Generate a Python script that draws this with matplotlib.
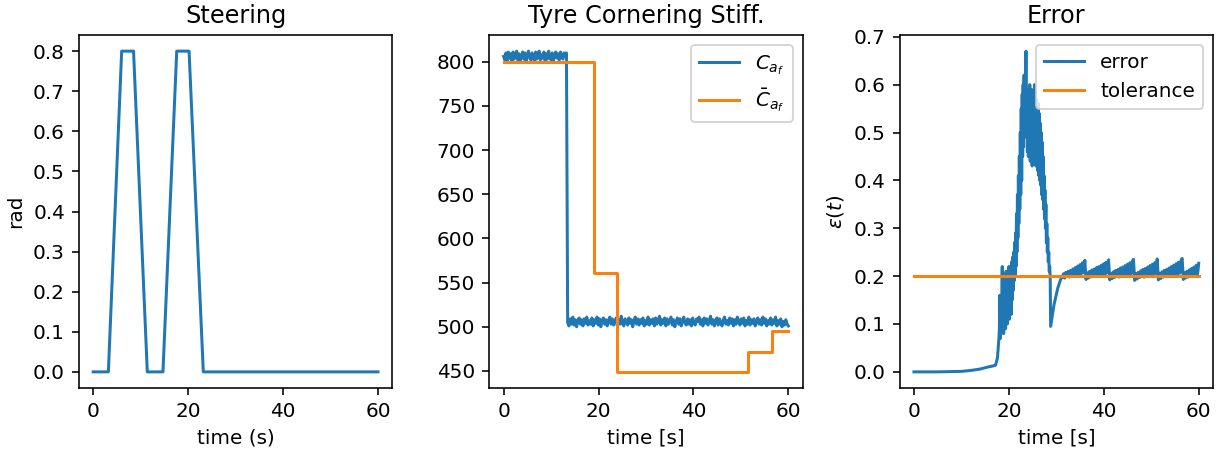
import numpy as np
import matplotlib.pyplot as plt

# steering input
steer_t = [0, 3.2, 6.0, 8.5, 11.4, 14.7, 17.6, 20.2, 23.2, 60]
steer_v = [0, 0, 0.8, 0.8, 0, 0, 0.8, 0.8, 0, 0]
steer_ticks = [0.0, 0.1, 0.2, 0.3, 0.4, 0.5, 0.6, 0.7, 0.8]

# true cornering stiffness (noisy), before and after the drop
caf_a = [806, 802, 810, 801, 811, 804, 809, 801, 811, 803, 808, 812, 802, 809, 801, 806, 811, 803,
         810, 801, 808, 812, 804, 802, 810, 805, 801, 811, 803, 809, 812, 802, 808, 804, 811, 801,
         809, 803, 812, 805, 802, 810, 801, 808, 811, 804, 809, 802, 811, 805, 803, 810, 806, 810]
caf_b = [505, 501, 509, 503, 511, 502, 508, 500, 507, 510, 503, 508, 501, 509, 504, 511, 502, 507, 503, 510,
         501, 508, 504, 511, 502, 509, 500, 507, 510, 503, 508, 501, 507, 511, 503, 509, 502, 506, 510, 501,
         508, 503, 512, 504, 501, 509, 506, 502, 510, 504, 508, 500, 507, 511, 503, 509, 502, 508, 504, 510,
         501, 507, 503, 511, 502, 508, 504, 509, 501, 510, 503, 507, 512, 502, 508, 504, 510, 501, 509, 503,
         507, 511, 502, 508, 500, 506, 510, 503, 509, 501, 507, 511, 504, 502, 509, 503, 508, 501, 510, 504,
         502, 509, 506, 511, 503, 508, 501, 510, 504, 509, 502, 507, 512, 503, 508, 501, 507, 510, 502, 509,
         504, 501, 508, 511, 503, 507, 502, 510, 504, 509, 501, 508, 503, 511, 506, 502, 509, 504, 510, 501,
         507, 503, 511, 502, 508, 504, 509, 501, 507, 510, 503, 508, 502, 511, 504, 509, 501, 507, 503, 510,
         502, 508, 504, 511, 501, 507, 503, 509, 500, 506, 502, 508, 503, 501]

# estimated stiffness (piecewise constant)
cbar_t = [0, 19, 24, 51.5, 56.5, 60]
cbar_v = [800, 561, 449, 471, 495, 495]

# error: smooth start, burst, recovery, sawtooth
err_smooth_t = [0, 5, 8, 10, 12, 14, 15.5, 16.5, 17.2, 17.6, 17.9]
err_smooth_v = [0, 0, 0.0005, 0.001, 0.003, 0.006, 0.010, 0.012, 0.014, 0.03, 0.07]
err_burst = [0.09, 0.16, 0.07, 0.12, 0.08, 0.14, 0.22, 0.10, 0.19, 0.08,
             0.20, 0.11, 0.19, 0.09, 0.21, 0.12, 0.20, 0.10, 0.21, 0.13,
             0.22, 0.11, 0.21, 0.14, 0.22, 0.12, 0.23, 0.15, 0.24, 0.17,
             0.25, 0.19, 0.27, 0.20, 0.29, 0.22, 0.33, 0.25, 0.37, 0.28,
             0.41, 0.31, 0.45, 0.34, 0.50, 0.37, 0.55, 0.40, 0.58, 0.45,
             0.60, 0.47, 0.62, 0.50, 0.60, 0.55, 0.67, 0.49, 0.58, 0.46,
             0.59, 0.45, 0.57, 0.47, 0.60, 0.44, 0.58, 0.46, 0.59, 0.43,
             0.58, 0.46, 0.57, 0.44, 0.60, 0.45, 0.56, 0.43, 0.57, 0.44,
             0.55, 0.42, 0.56, 0.41, 0.54, 0.40, 0.52, 0.39, 0.50, 0.37,
             0.48, 0.36, 0.45, 0.34, 0.41, 0.32, 0.38, 0.30, 0.35, 0.27,
             0.31, 0.25, 0.28, 0.23, 0.25, 0.21, 0.22, 0.20]
err_rec_t = [28.8, 29.5, 30.3, 31.0]
err_rec_v = [0.095, 0.14, 0.175, 0.196]
err_saw = [0.197, 0.205, 0.196, 0.208, 0.199, 0.210, 0.198, 0.212, 0.201, 0.215,
           0.200, 0.218, 0.203, 0.221, 0.202, 0.224, 0.205, 0.228, 0.207, 0.233,
           0.193, 0.207, 0.196, 0.210, 0.198, 0.213, 0.200, 0.215, 0.199, 0.218,
           0.202, 0.220, 0.201, 0.223, 0.204, 0.226, 0.203, 0.229, 0.207, 0.234,
           0.192, 0.206, 0.195, 0.209, 0.197, 0.212, 0.199, 0.214, 0.198, 0.217,
           0.201, 0.219, 0.200, 0.222, 0.203, 0.225, 0.202, 0.228, 0.205, 0.231, 0.235,
           0.191, 0.205, 0.194, 0.208, 0.197, 0.211, 0.199, 0.214, 0.198, 0.216,
           0.201, 0.219, 0.200, 0.222, 0.203, 0.225, 0.203, 0.228, 0.206, 0.236,
           0.192, 0.206, 0.195, 0.209, 0.198, 0.212, 0.200, 0.214, 0.199, 0.217,
           0.202, 0.220, 0.201, 0.223, 0.204, 0.226, 0.203, 0.229, 0.206, 0.232, 0.237,
           0.193, 0.207, 0.196, 0.210, 0.198, 0.213, 0.200, 0.216, 0.199, 0.219,
           0.202, 0.223, 0.204, 0.227]

tol_t = [0, 60]
tol_v = [0.2, 0.2]

caf_t = np.concatenate([np.linspace(0, 13.25, len(caf_a)), np.linspace(13.5, 60, len(caf_b))])
caf = np.array(caf_a + caf_b)

burst_t = 18.0 + 0.1 * np.arange(len(err_burst))
saw_t = np.linspace(31.25, 60, len(err_saw))
err_t = np.concatenate([err_smooth_t, burst_t, err_rec_t, saw_t])
err_v = np.concatenate([err_smooth_v, err_burst, err_rec_v, err_saw])

fig, ax = plt.subplots(1, 3, figsize=(8.5, 3.125), dpi=144)
plt.subplots_adjust(left=0.0645, right=0.991, top=0.922, bottom=0.138, wspace=0.31)

ax[0].plot(steer_t, steer_v)
ax[0].set_title('Steering')
ax[0].set_xlabel('time (s)')
ax[0].set_ylabel('rad')
ax[0].set_yticks(steer_ticks)

ax[1].plot(caf_t, caf, label=r'$C_{a_f}$')
ax[1].step(cbar_t, cbar_v, where='post', label=r'$\bar{C}_{a_f}$')
ax[1].set_title('Tyre Cornering Stiff.')
ax[1].set_xlabel('time [s]')
ax[1].legend(loc='upper right')

ax[2].plot(err_t, err_v, label='error')
ax[2].plot(tol_t, tol_v, label='tolerance')
ax[2].set_title('Error')
ax[2].set_xlabel('time [s]')
ax[2].set_ylabel(r'$\varepsilon(t)$')
ax[2].legend(loc='upper right')

for a in ax:
    a.set_xticks([0, 20, 40, 60])

plt.savefig('out.png')
